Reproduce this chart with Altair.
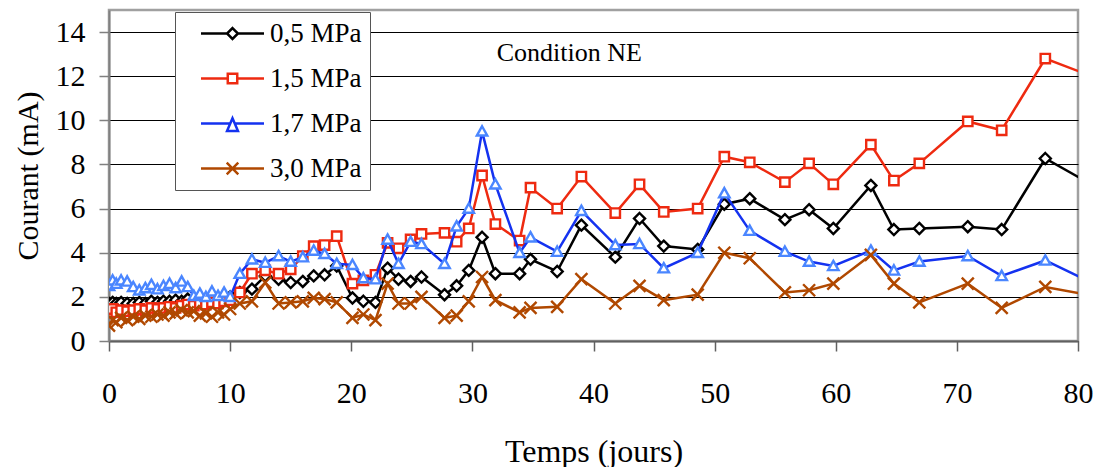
import altair as alt
import pandas as pd

# ---------------- data ----------------
days = [0, 0.3, 0.6, 1, 1.5, 2, 2.5, 3, 3.5, 4, 4.5, 5, 5.5, 6, 6.5, 7, 7.5, 8, 8.5, 9, 9.5, 10,
        10.8, 11.8, 12.9, 14, 15, 16, 16.9, 17.8, 18.8, 20.1, 21, 22, 23, 23.9, 24.9, 25.8,
        27.7, 28.7, 29.7, 30.8, 31.9, 33.9, 34.8, 37, 39, 41.8, 43.8, 45.8, 48.6, 50.8, 52.9,
        55.8, 57.8, 59.8, 62.9, 64.8, 66.9, 70.9, 73.7, 77.3, 84]

v_05 = [1.7, 1.75, 1.7, 1.75, 1.7, 1.7, 1.75, 1.7, 1.8, 1.75, 1.8, 1.8, 1.85, 1.8, 1.9, 1.85, 1.9, 1.9, 1.95, 1.9, 2.0, 2.0,
        2.2, 2.35, 2.95, 2.8, 2.65, 2.7, 2.95, 3.0, 3.4, 1.95, 1.8, 1.75, 3.3, 2.8, 2.7, 2.9,
        2.1, 2.5, 3.2, 4.7, 3.05, 3.05, 3.7, 3.15, 5.25, 3.8, 5.55, 4.3, 4.15, 6.2, 6.45,
        5.5, 5.95, 5.1, 7.05, 5.05, 5.1, 5.18, 5.05, 8.27, 6.2]

v_15 = [1.3, 1.45, 1.3, 1.4, 1.35, 1.4, 1.45, 1.4, 1.5, 1.45, 1.5, 1.55, 1.5, 1.6, 1.65, 1.6, 1.7, 1.65, 1.75, 1.7, 1.8, 1.85,
        2.2, 3.05, 3.2, 3.05, 3.25, 3.85, 4.3, 4.35, 4.75, 2.6, 2.75, 3.0, 4.45, 4.2, 4.6, 4.85,
        4.9, 4.5, 5.1, 7.5, 5.3, 4.55, 6.95, 6.0, 7.45, 5.8, 7.1, 5.85, 6.0, 8.35, 8.1,
        7.2, 8.05, 7.1, 8.9, 7.27, 8.05, 9.95, 9.55, 12.8, 11.4]

v_17 = [2.5, 2.75, 2.6, 2.75, 2.7, 2.45, 2.3, 2.4, 2.55, 2.35, 2.5, 2.6, 2.4, 2.7, 2.45, 2.05, 2.15, 2.0, 2.25, 2.05, 2.2, 2.0,
        3.05, 3.7, 3.55, 3.85, 3.6, 3.8, 4.1, 3.95, 3.5, 3.45, 2.85, 2.8, 4.6, 3.5, 4.5, 4.4,
        3.5, 5.2, 6.0, 9.5, 7.1, 4.0, 4.7, 4.05, 5.9, 4.35, 4.4, 3.3, 4.0, 6.7, 5.0,
        4.05, 3.6, 3.4, 4.1, 3.2, 3.6, 3.85, 2.95, 3.65, 1.9]

v_30 = [0.7, 0.95, 0.85, 1.05, 0.95, 1.1, 1.0, 1.15, 1.1, 1.2, 1.15, 1.3, 1.25, 1.4, 1.3, 1.35, 1.15, 1.25, 1.1, 1.3, 1.2, 1.45,
        1.7, 1.8, 2.65, 1.7, 1.75, 1.8, 1.95, 1.9, 1.75, 1.05, 1.2, 0.95, 2.6, 1.7, 1.7, 2.0,
        1.05, 1.15, 1.8, 2.9, 1.85, 1.3, 1.5, 1.55, 2.8, 1.7, 2.5, 1.85, 2.1, 4.0, 3.75,
        2.2, 2.3, 2.6, 3.9, 2.6, 1.75, 2.6, 1.5, 2.45, 1.77]

series_names = ["0,5 MPa", "1,5 MPa", "1,7 MPa", "3,0 MPa"]
series_values = [v_05, v_15, v_17, v_30]

x_ticks = [0, 10, 20, 30, 40, 50, 60, 70, 80]
y_ticks = [0, 2, 4, 6, 8, 10, 12, 14]

note_text = ["Condition NE"]
note_day = [38.0]
note_value = [13.05]

# ---------------- styles ----------------
line_colors = ["#000000", "#ee2a10", "#1432f0", "#b04800"]
marker_colors = ["#000000", "#ee2a10", "#4a86ff", "#b04800"]
marker_paths = [
    "M0,-0.92L0.92,0L0,0.92L-0.92,0Z",
    "M-0.78,-0.78L0.78,-0.78L0.78,0.78L-0.78,0.78Z",
    "M0,-0.85L0.87,0.7L-0.87,0.7Z",
    "M-1,-1L1,1M-1,1L1,-1",
]
legend_paths = [
    "M-3,0L-0.52,0M0.52,0L3,0M0,-0.52L0.52,0L0,0.52L-0.52,0Z",
    "M-3,0L-0.45,0M0.45,0L3,0M-0.45,-0.45L0.45,-0.45L0.45,0.45L-0.45,0.45Z",
    "M-3,0L-0.21,0M0.21,0L3,0M0,-0.5L0.52,0.72L-0.52,0.72Z",
    "M-3,0L3,0M-0.55,-0.55L0.55,0.55M-0.55,0.55L0.55,-0.55",
]
FONT = "Liberation Serif"

rows = []
for name, vals in zip(series_names, series_values):
    for d, v in zip(days, vals):
        rows.append({"series": name, "day": d, "value": v})
df = pd.DataFrame(rows)

note_df = pd.DataFrame({"day": note_day, "value": note_value, "text": note_text})

x_enc = alt.X("day:Q",
              scale=alt.Scale(domain=[0, 80], nice=False, zero=False),
              axis=alt.Axis(values=x_ticks, title="Temps (jours)", grid=False,
                            labelPadding=27, titlePadding=28, labelFlush=False,
                            titleFontSize=32,
                            domainColor="#606060", tickColor="#606060"))
y_enc = alt.Y("value:Q",
              scale=alt.Scale(domain=[0, 15], nice=False),
              axis=alt.Axis(values=y_ticks, title="Courant (mA)", grid=True,
                            gridColor="#000000", gridWidth=1,
                            labelPadding=14, titlePadding=12, titleFontSize=30,
                            domainColor="#808080", tickColor="#808080"))

legend = alt.Legend(
    title=None, orient="none", legendX=66, legendY=2,
    padding=8, rowPadding=17,
    symbolSize=441, symbolStrokeWidth=2.5, symbolOffset=36,
    symbolFillColor="#ffffff",
    labelOffset=24, labelFont=FONT, labelFontSize=27, labelColor="#000000",
    fillColor="#ffffff", strokeColor="#555555",
)

layers = []
for i, name in enumerate(series_names):
    sub = alt.Chart(df).transform_filter(alt.datum.series == name)
    line = sub.mark_line(strokeWidth=2.5, clip=True, color=line_colors[i]).encode(
        x=x_enc, y=y_enc)
    pts = sub.mark_point(shape=marker_paths[i], size=144, filled=False,
                         fill="#ffffff", fillOpacity=1, opacity=1,
                         stroke=marker_colors[i], strokeWidth=2.4,
                         clip=True).encode(x=x_enc, y=y_enc)
    layers += [line, pts]

# legend-only layer (no data rows survive the filter; the legend is built from the scale domains)
legend_layer = alt.Chart(df).transform_filter(alt.datum.series == "__none__").mark_point(
    filled=False, strokeWidth=2.5, opacity=1).encode(
    x=x_enc, y=y_enc,
    color=alt.Color("series:N", scale=alt.Scale(domain=series_names, range=line_colors), legend=legend),
    shape=alt.Shape("series:N", scale=alt.Scale(domain=series_names, range=legend_paths), legend=legend),
)

note = alt.Chart(note_df).mark_text(font=FONT, fontSize=26, align="center",
                                     baseline="middle", color="#000000").encode(
    x=x_enc, y=y_enc, text="text:N")

chart = alt.layer(*layers, legend_layer, note).properties(
    width=969, height=331,
    autosize=alt.AutoSizeParams(type="none"),
    padding={"left": 101, "top": 2, "right": 15, "bottom": 126},
).configure_view(
    stroke="#a0a0a0", strokeWidth=2.5
).configure_axis(
    labelFont=FONT, labelFontSize=30, labelColor="#000000",
    titleFont=FONT, titleFontWeight="normal", titleColor="#000000",
    tickSize=10, tickWidth=1.5, domainWidth=2,
)

chart.save("out.html", embed_options={"renderer": "svg", "actions": False})
